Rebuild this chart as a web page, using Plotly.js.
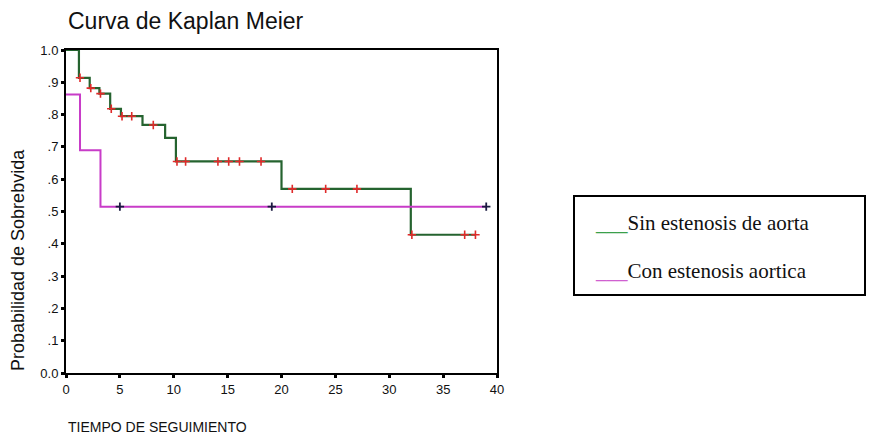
<!DOCTYPE html>
<html>
<head>
<meta charset="utf-8">
<script src="https://cdn.plot.ly/plotly-3.0.1.min.js"></script>
<style>html,body{margin:0;padding:0;background:#fff;}#chart{width:874px;height:437px;}</style>
</head>
<body>
<div id="chart"></div>
<script>
// Sin estenosis de aorta (step function)
const sinTimes = [0, 1.2, 2.2, 3.1, 4.1, 5.1, 7.1, 9.2, 10.2, 20.0, 32.0, 38.0];
const sinSurv  = [1.0, 0.914, 0.882, 0.865, 0.818, 0.795, 0.768, 0.728, 0.655, 0.57, 0.428, 0.428];
const sinCensor = [1.3, 2.3, 3.2, 4.2, 5.2, 6.1, 8.1, 10.3, 11.1, 14.1, 15.1, 16.1, 18.1, 21.0, 24.1, 27.0, 32.1, 37.0, 38.0];

// Con estenosis aortica
const conTimes = [0, 1.3, 3.2, 39.0];
const conSurv  = [0.862, 0.69, 0.515, 0.515];
const conCensor = [5.0, 19.1, 39.0];

const yTickVals = [0, 0.1, 0.2, 0.3, 0.4, 0.5, 0.6, 0.7, 0.8, 0.9, 1.0];
const yTickText = ["0.0", ".1", ".2", ".3", ".4", ".5", ".6", ".7", ".8", ".9", "1.0"];
const xTickVals = [0, 5, 10, 15, 20, 25, 30, 35, 40];

function survAt(times, surv, t) {
  let s = surv[0];
  for (let i = 0; i < times.length; i++) { if (times[i] <= t) s = surv[i]; }
  return s;
}

const traces = [
  {x: sinTimes, y: sinSurv, mode: 'lines', line: {shape: 'hv', color: '#25632f', width: 2.2}, showlegend: false, name: 'Sin estenosis de aorta'},
  {x: conTimes, y: conSurv, mode: 'lines', line: {shape: 'hv', color: '#c83cc8', width: 2}, showlegend: false, name: 'Con estenosis aortica'},
  {x: sinCensor, y: sinCensor.map(t => survAt(sinTimes, sinSurv, t)), mode: 'markers',
   marker: {symbol: 'cross-thin', size: 6, line: {color: '#e02a2a', width: 1.6}}, showlegend: false},
  {x: conCensor, y: conCensor.map(t => survAt(conTimes, conSurv, t)), mode: 'markers',
   marker: {symbol: 'cross-thin', size: 6, line: {color: '#1a1a40', width: 1.8}}, showlegend: false}
];

const font = 'Liberation Sans, Arial, sans-serif';
const serif = 'Liberation Serif, Times New Roman, serif';
const layout = {
  width: 874, height: 437,
  margin: {l: 66, r: 377, t: 50, b: 64},
  paper_bgcolor: '#fff', plot_bgcolor: '#fff',
  title: {text: 'Curva de Kaplan Meier', x: 68/874, xanchor: 'left', y: 1 - 21/437, yanchor: 'middle',
          font: {family: font, size: 23, color: '#111'}},
  xaxis: {range: [0, 40], tickvals: xTickVals, showgrid: false, zeroline: false,
          showline: true, linecolor: '#000', linewidth: 2, mirror: true,
          ticks: 'outside', ticklen: 3, tickwidth: 3, tickcolor: '#000',
          tickfont: {family: font, size: 13, color: '#111'}},
  yaxis: {range: [0, 1], tickvals: yTickVals, ticktext: yTickText, showgrid: false, zeroline: false,
          showline: true, linecolor: '#000', linewidth: 2, mirror: true,
          ticks: 'outside', ticklen: 3, tickwidth: 3, tickcolor: '#000',
          tickfont: {family: font, size: 13, color: '#111'}},
  shapes: [
    {type: 'rect', xref: 'paper', yref: 'paper', x0: (574-66)/431, x1: (865-66)/431,
     y0: (373-295)/323, y1: (373-196)/323, line: {color: '#000', width: 2}}
  ],
  annotations: [
    {text: 'Probabilidad de Sobrebvida', xref: 'paper', yref: 'paper', x: (18-66)/431, y: (373-260)/323,
     textangle: -90, showarrow: false, xanchor: 'center', yanchor: 'middle',
     font: {family: font, size: 18, color: '#111'}},
    {text: 'TIEMPO DE SEGUIMIENTO', xref: 'paper', yref: 'paper', x: 0, y: (373-427)/323,
     showarrow: false, xanchor: 'left', yanchor: 'middle',
     font: {family: font, size: 14, color: '#111'}},
    {text: '<span style="color:#3aa04a">___</span>Sin estenosis de aorta', xref: 'paper', yref: 'paper',
     x: (593-66)/431, y: (373-223)/323, showarrow: false, xanchor: 'left', yanchor: 'middle',
     font: {family: serif, size: 21, color: '#111'}},
    {text: '<span style="color:#d060d0">___</span>Con estenosis aortica', xref: 'paper', yref: 'paper',
     x: (593-66)/431, y: (373-271)/323, showarrow: false, xanchor: 'left', yanchor: 'middle',
     font: {family: serif, size: 21, color: '#111'}}
  ]
};

Plotly.newPlot('chart', traces, layout, {staticPlot: true, displayModeBar: false});
</script>
</body>
</html>
